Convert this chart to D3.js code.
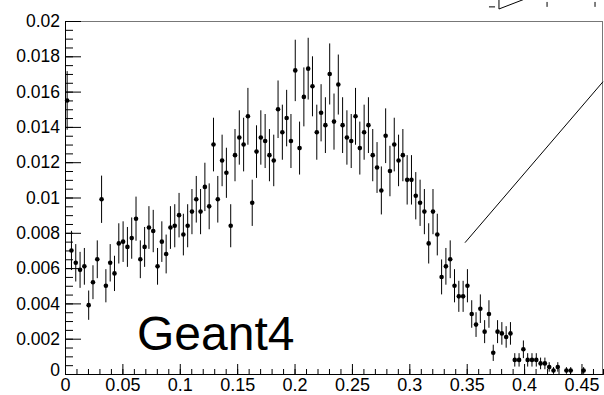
<!DOCTYPE html>
<html>
<head>
<meta charset="utf-8">
<script src="https://cdn.jsdelivr.net/npm/d3@7"></script>
<style>
  body { margin: 0; background: #fff; }
  svg { display: block; font-family: "Liberation Sans", Arial, sans-serif; }
</style>
</head>
<body>
<div id="chart"></div>
<script>
// Histogram: 125 bins of 0.00375 from 0 to 0.46875 (empty bins are not drawn)
const binWidth = 0.00375;
const binValues = [
  0.0155, 0.0070, 0.0063, 0.0059, 0.0061, 0.0039, 0.0052, 0.0065, 0.0099, 0.0050,
  0.0063, 0.0057, 0.0074, 0.0075, 0.0072, 0.0077, 0.0088, 0.0065, 0.0072, 0.0083,
  0.0081, 0.0061, 0.0075, 0.0068, 0.0083, 0.0084, 0.0090, 0.0079, 0.0084, 0.0092,
  0.0099, 0.0092, 0.0106, 0.0095, 0.0130, 0.0099, 0.0121, 0.0114, 0.0084, 0.0124,
  0.0134, 0.0130, 0.0146, 0.0097, 0.0126, 0.0134, 0.0132, 0.0124, 0.0121, 0.0150,
  0.0137, 0.0145, 0.0132, 0.0172, 0.0128, 0.0157, 0.0173, 0.0163, 0.0137, 0.0148,
  0.0141, 0.0170, 0.0143, 0.0164, 0.0141, 0.0134, 0.0132, 0.0146, 0.0128, 0.0137,
  0.0141, 0.0124, 0.0117, 0.0104, 0.0135, 0.0115, 0.0130, 0.0121, 0.0124, 0.0110,
  0.0110, 0.0101, 0.0097, 0.0092, 0.0074, 0.0092, 0.0079, 0.0055, 0.0061, 0.0065,
  0.0050, 0.0044, 0.0044, 0.0050, 0.0034, 0.0028, 0.0037, 0.0024, 0.0034, 0.0012,
  0.0024, 0.0023, 0.0021, 0.0023, 0.0008, 0.0008, 0.0014, 0.0008, 0.0008, 0.0008,
  0.0006, 0.0006, 0.0004, 0.0002, 0.0004, 0, 0.0002, 0.0002, 0, 0,
  0.0002, 0, 0, 0, 0
];
const binErrors = [
  0.00166, 0.00111, 0.00106, 0.00102, 0.00104, 0.00083, 0.00096, 0.00107, 0.00134, 0.00094,
  0.00106, 0.00100, 0.00114, 0.00115, 0.00113, 0.00117, 0.00125, 0.00107, 0.00113, 0.00121,
  0.00120, 0.00104, 0.00115, 0.00110, 0.00121, 0.00122, 0.00126, 0.00118, 0.00122, 0.00128,
  0.00132, 0.00128, 0.00137, 0.00130, 0.00152, 0.00132, 0.00146, 0.00142, 0.00122, 0.00148,
  0.00154, 0.00152, 0.00161, 0.00131, 0.00149, 0.00154, 0.00153, 0.00148, 0.00146, 0.00163,
  0.00156, 0.00160, 0.00153, 0.00174, 0.00150, 0.00167, 0.00175, 0.00170, 0.00156, 0.00162,
  0.00158, 0.00173, 0.00159, 0.00170, 0.00158, 0.00154, 0.00153, 0.00161, 0.00150, 0.00156,
  0.00158, 0.00148, 0.00144, 0.00136, 0.00155, 0.00143, 0.00152, 0.00146, 0.00148, 0.00140,
  0.00140, 0.00134, 0.00131, 0.00128, 0.00114, 0.00128, 0.00118, 0.00099, 0.00104, 0.00107,
  0.00094, 0.00088, 0.00088, 0.00094, 0.00078, 0.00070, 0.00081, 0.00065, 0.00078, 0.00046,
  0.00065, 0.00064, 0.00061, 0.00064, 0.00038, 0.00038, 0.00050, 0.00038, 0.00038, 0.00038,
  0.00033, 0.00033, 0.00027, 0.00019, 0.00027, 0, 0.00019, 0.00019, 0, 0,
  0.00019, 0, 0, 0, 0
];

// Axis ticks and labels
const xTickValues = [0, 0.05, 0.1, 0.15, 0.2, 0.25, 0.3, 0.35, 0.4, 0.45];
const xTickLabels = ["0", "0.05", "0.1", "0.15", "0.2", "0.25", "0.3", "0.35", "0.4", "0.45"];
const yTickValues = [0, 0.002, 0.004, 0.006, 0.008, 0.01, 0.012, 0.014, 0.016, 0.018, 0.02];
const yTickLabels = ["0", "0.002", "0.004", "0.006", "0.008", "0.01", "0.012", "0.014", "0.016", "0.018", "0.02"];

// Annotation line inside the frame and stray bits of another pad above it (data coords)
const arrowLine = [[0.3485, 0.00744], [0.46875, 0.01656]];
const strayLines = [
  [[0.3694, 0.0208], [0.3747, 0.0208]],
  [[0.3781, 0.02125], [0.3781, 0.02068]],
  [[0.3781, 0.02068], [0.4008, 0.02125]],
  [[0.42, 0.02108], [0.42, 0.0208]],
  [[0.4618, 0.02108], [0.4618, 0.0208]]
];
const labelText = "Geant4";

const width = 604, height = 395;
const margin = { top: 21, right: 1, bottom: 21, left: 65 };
const innerW = width - margin.left - margin.right;
const innerH = height - margin.top - margin.bottom;

const svg = d3.select("#chart").append("svg")
  .attr("width", width)
  .attr("height", height);

const chart = svg.append("g")
  .attr("transform", `translate(${margin.left},${margin.top})`);

const x = d3.scaleLinear().domain([0, 0.46875]).range([0, innerW]);
const y = d3.scaleLinear().domain([0, 0.02]).range([innerH, 0]);

// Frame
chart.append("rect")
  .attr("x", 0.5).attr("y", 0.5)
  .attr("width", innerW - 1).attr("height", innerH)
  .attr("fill", "none")
  .attr("stroke", "#777")
  .attr("stroke-width", 1);

// Minor ticks
const minorY = d3.axisLeft(y)
  .tickValues(d3.range(0, 41).map(i => i * 0.0005))
  .tickSize(-8).tickFormat("");
const minorX = d3.axisBottom(x)
  .tickValues(d3.range(0, 47).map(i => i * 0.01))
  .tickSize(-5).tickFormat("");

chart.append("g").attr("class", "minor").call(minorY);
chart.append("g").attr("class", "minor")
  .attr("transform", `translate(0,${innerH})`).call(minorX);

// Major axes
const yAxis = d3.axisLeft(y)
  .tickValues(yTickValues)
  .tickSize(-16).tickSizeOuter(0).tickPadding(5)
  .tickFormat((d, i) => yTickLabels[i]);
const xAxis = d3.axisBottom(x)
  .tickValues(xTickValues)
  .tickSize(-10).tickSizeOuter(0).tickPadding(4)
  .tickFormat((d, i) => xTickLabels[i]);

chart.append("g").attr("class", "y-axis").call(yAxis);
chart.append("g").attr("class", "x-axis")
  .attr("transform", `translate(0,${innerH})`).call(xAxis);

chart.selectAll(".y-axis .tick text")
  .style("font-size", "17.5px")
  .attr("fill", "#000");
chart.selectAll(".x-axis .tick text")
  .style("font-size", "18px")
  .attr("fill", "#000");
// ROOT draws the y "0" a bit raised
chart.selectAll(".y-axis .tick").filter(d => d === 0).select("text").attr("dy", "0.1em");

chart.selectAll(".tick line").attr("stroke", "#000");
chart.selectAll(".domain").attr("stroke", "#000");

// Histogram points with error bars
const points = binValues
  .map((v, i) => ({ x: (i + 0.5) * binWidth, v: v, e: binErrors[i] }))
  .filter(d => d.v > 0);

chart.selectAll(".err")
  .data(points)
  .join("line")
  .attr("class", "err")
  .attr("x1", d => x(d.x)).attr("x2", d => x(d.x))
  .attr("y1", d => y(d.v - d.e)).attr("y2", d => y(Math.min(d.v + d.e, 0.02)))
  .attr("stroke", "#000")
  .attr("stroke-width", 1);

chart.selectAll(".pt")
  .data(points)
  .join("circle")
  .attr("class", "pt")
  .attr("cx", d => x(d.x))
  .attr("cy", d => y(d.v))
  .attr("r", 2.3)
  .attr("fill", "#000");

// Diagonal line
const line = d3.line().x(d => x(d[0])).y(d => y(d[1]));
chart.append("path")
  .attr("d", line(arrowLine))
  .attr("fill", "none")
  .attr("stroke", "#000")
  .attr("stroke-width", 1);

chart.selectAll(".stray")
  .data(strayLines)
  .join("path")
  .attr("class", "stray")
  .attr("d", d => line(d))
  .attr("fill", "none")
  .attr("stroke", "#000")
  .attr("stroke-width", 1);

// Label
chart.append("text")
  .attr("x", x(0.0627))
  .attr("y", y(0.00136))
  .style("font-size", "48px")
  .attr("fill", "#000")
  .text(labelText);
</script>
</body>
</html>
